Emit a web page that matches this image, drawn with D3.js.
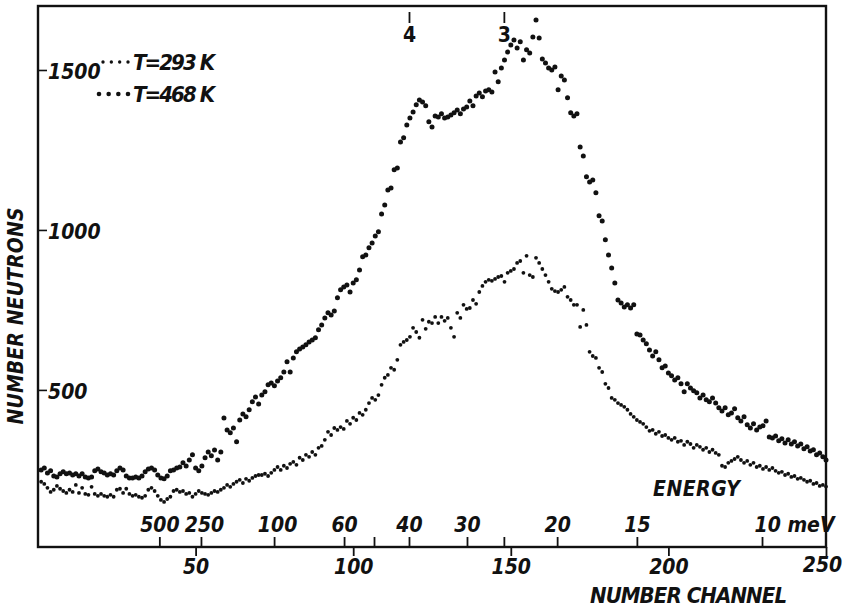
<!DOCTYPE html>
<html>
<head>
<meta charset="utf-8">
<script src="https://cdn.jsdelivr.net/npm/d3@7"></script>
<style>
  body { margin: 0; background: #fff; }
  svg text { font-family: "DejaVu Sans Condensed", "DejaVu Sans", sans-serif; font-style: italic; font-weight: bold; fill: #111; }
</style>
</head>
<body>
<div id="chart"></div>
<script>
// counts per channel (channels 1..250)
const counts468 = [
  250, 256, 240, 247, 231, 228, 238, 244, 238, 240,
  234, 238, 231, 238, 228, 225, 228, 247, 253, 244,
  240, 234, 238, 234, 247, 256, 250, 231, 225, 225,
  228, 225, 231, 244, 253, 256, 250, 234, 225, 222,
  231, 247, 250, 256, 259, 272, 262, 281, 297, 256,
  247, 262, 288, 306, 294, 312, 281, 306, 412, 375,
  366, 381, 338, 406, 425, 416, 438, 463, 478, 456,
  484, 494, 516, 522, 513, 528, 538, 556, 588, 556,
  600, 619, 628, 634, 641, 650, 656, 663, 688, 703,
  725, 741, 734, 747, 788, 813, 822, 828, 806, 834,
  844, 875, 916, 922, 944, 959, 981, 994, 1050, 1078,
  1125, 1131, 1188, 1194, 1275, 1288, 1328, 1350, 1369, 1391,
  1406, 1400, 1388, 1338, 1322, 1356, 1353, 1363, 1350, 1353,
  1359, 1366, 1375, 1363, 1378, 1384, 1403, 1388, 1419, 1428,
  1416, 1434, 1438, 1431, 1494, 1463, 1506, 1531, 1556, 1578,
  1594, 1569, 1588, 1531, 1563, 1553, 1603, 1656, 1600, 1534,
  1522, 1506, 1500, 1509, 1438, 1481, 1469, 1413, 1366, 1356,
  1363, 1259, 1231, 1166, 1150, 1156, 1116, 1044, 1028, 969,
  922, 881, 834, 781, 772, 759, 766, 756, 766, 675,
  672, 656, 644, 625, 606, 619, 594, 569, 575, 553,
  544, 531, 538, 519, 494, 519, 506, 497, 491, 475,
  484, 469, 463, 475, 459, 444, 434, 444, 422, 428,
  441, 413, 403, 416, 391, 381, 394, 375, 384, 388,
  403, 353, 350, 356, 341, 347, 334, 344, 331, 338,
  325, 331, 316, 322, 309, 313, 297, 303, 291, 281
];

const counts293 = [
  213, 206, 194, 181, 188, 200, 191, 184, 178, 188,
  181, 203, 178, 194, 175, 172, 197, 175, 169, 175,
  169, 166, 172, 166, 188, 191, 178, 191, 175, 169,
  172, 166, 163, 169, 188, 194, 184, 169, 156, 150,
  159, 166, 184, 188, 181, 184, 175, 178, 166, 175,
  184, 178, 175, 172, 178, 184, 181, 188, 194, 203,
  197, 206, 213, 219, 209, 222, 216, 225, 231, 234,
  234, 238, 231, 241, 250, 259, 250, 263, 256, 269,
  275, 266, 288, 281, 297, 291, 306, 297, 319, 325,
  344, 369, 359, 381, 375, 384, 378, 403, 394, 413,
  406, 428, 422, 438, 459, 475, 469, 484, 516, 538,
  547, 569, 563, 594, 641, 650, 656, 666, 694, 681,
  663, 719, 691, 713, 709, 728, 709, 728, 716, 725,
  694, 666, 741, 725, 766, 753, 756, 781, 769, 806,
  825, 838, 844, 841, 847, 853, 856, 838, 866, 872,
  878, 897, 903, 866, 919, 859, 853, 913, 897, 878,
  859, 838, 816, 809, 806, 813, 822, 791, 781, 766,
  766, 697, 750, 703, 619, 606, 600, 569, 556, 519,
  506, 475, 469, 459, 453, 447, 438, 425, 416, 406,
  400, 394, 384, 372, 375, 363, 369, 356, 359, 350,
  344, 350, 338, 341, 328, 338, 331, 319, 328, 322,
  313, 319, 306, 313, 303, 297, 263, 259, 272, 278,
  284, 291, 281, 272, 278, 266, 272, 259, 263, 253,
  259, 250, 256, 247, 241, 244, 234, 238, 228, 231,
  222, 225, 219, 213, 216, 206, 209, 200, 203, 198
];

const channelTicks = [50, 100, 150, 200, 250];
const countTicks = [500, 1000, 1500];

// energy scale marks, given as the channel they sit at
const energyChannels = [38.5, 51.7, 74.9, 97.1, 106.6, 117.7, 136.1, 147.8, 164.7, 190.0, 229.7];
const energyLabels = ["500", "250", "100", "60", "", "40", "30", "", "20", "15", "10 meV"];

const topChannels = [117.7, 147.8];
const topLabels = ["4", "3"];

const seriesNames = ["T=293 K", "T=468 K"];

const margin = {top: 6, right: 19, bottom: 63, left: 38},
    width = 845 - margin.left - margin.right,
    height = 610 - margin.top - margin.bottom;

const svg = d3.select("#chart")
    .append("svg")
    .attr("width", 845)
    .attr("height", 610)
    .append("g")
    .attr("transform", `translate(${margin.left},${margin.top})`);

const x = d3.scaleLinear()
    .domain([0, 250])
    .range([0, width]);

const y = d3.scaleLinear()
    .domain([9, 1700])
    .range([height, 0]);

const series = [
    {name: seriesNames[0], values: counts293, r: 1.9},
    {name: seriesNames[1], values: counts468, r: 2.5}
];

// dots
series.forEach(s => {
    svg.append("g")
        .selectAll("circle")
        .data(s.values)
        .join("circle")
        .attr("cx", (d, i) => x(i + 1))
        .attr("cy", d => y(d))
        .attr("r", s.r)
        .attr("fill", "#111");
});

// frame
svg.append("rect")
    .attr("x", 0)
    .attr("y", 0)
    .attr("width", width)
    .attr("height", height)
    .attr("fill", "none")
    .attr("stroke", "#111")
    .attr("stroke-width", 2.4);

// count axis, ticks pointing into the plot
const yAxis = svg.append("g")
    .call(d3.axisRight(y).tickValues(countTicks).tickSize(9).tickPadding(1).tickFormat(d3.format("d")));
yAxis.select(".domain").remove();
yAxis.selectAll("line").attr("stroke", "#111").attr("stroke-width", 1.6);
yAxis.selectAll("text").style("font-size", "21px").attr("dy", "0.4em");

// channel axis below
const xAxis = svg.append("g")
    .attr("transform", `translate(0,${height})`)
    .call(d3.axisBottom(x).tickValues(channelTicks).tickSize(9).tickPadding(3));
xAxis.select(".domain").remove();
xAxis.selectAll("line").attr("stroke", "#111").attr("stroke-width", 1.8);
xAxis.selectAll("text").style("font-size", "21px");
xAxis.selectAll(".tick").filter(d => d === 250).select("text").attr("dx", "-4px").attr("y", 10);

// energy scale on top of the channel axis
const eAxis = svg.append("g")
    .attr("transform", `translate(0,${height})`)
    .call(d3.axisTop(x).tickValues(energyChannels).tickSize(10).tickPadding(5)
        .tickFormat((d, i) => energyLabels[i]));
eAxis.select(".domain").remove();
eAxis.selectAll("line").attr("stroke", "#111").attr("stroke-width", 1.8);
eAxis.selectAll("text").style("font-size", "21px");
eAxis.selectAll(".tick").filter((d, i) => i === 1).select("text").attr("dx", "3px");
eAxis.selectAll(".tick").filter((d, i) => i === 2).select("text").attr("dx", "3px");
eAxis.selectAll(".tick").filter((d, i) => i === energyLabels.length - 1).select("text")
    .attr("text-anchor", "start").attr("dx", "-8px");

// marks 4 and 3 at the top
const tAxis = svg.append("g")
    .attr("transform", "translate(0,6)")
    .call(d3.axisBottom(x).tickValues(topChannels).tickSize(11).tickPadding(4)
        .tickFormat((d, i) => topLabels[i]));
tAxis.select(".domain").remove();
tAxis.selectAll("line").attr("stroke", "#111").attr("stroke-width", 1.8);
tAxis.selectAll("text").style("font-size", "21px").style("font-style", "normal");

// axis titles
svg.append("text")
    .attr("x", 552)
    .attr("y", height + 56)
    .style("font-size", "22px")
    .attr("textLength", 197)
    .text("NUMBER  CHANNEL");

svg.append("text")
    .attr("x", 615)
    .attr("y", 496 - margin.top)
    .style("font-size", "21px")
    .attr("textLength", 87)
    .text("ENERGY");

svg.append("text")
    .attr("transform", `translate(${-15},${316 - margin.top}) rotate(-90)`)
    .attr("text-anchor", "middle")
    .style("font-size", "21px")
    .attr("textLength", 217)
    .text("NUMBER  NEUTRONS");

// legend
const legend = svg.append("g");
const legendRows = [
    {x0: 103, cy: 62, name: seriesNames[0], r: 1.7},
    {x0: 99, cy: 94, name: seriesNames[1], r: 2.3}
];
legendRows.forEach(row => {
    const dotX = d3.range(4).map(k => row.x0 + k * (128 - row.x0) / 3);
    legend.append("g")
        .selectAll("circle")
        .data(dotX)
        .join("circle")
        .attr("cx", d => d - margin.left)
        .attr("cy", row.cy - margin.top)
        .attr("r", row.r)
        .attr("fill", "#111");
    legend.append("text")
        .attr("x", 133 - margin.left)
        .attr("y", row.cy - margin.top + 8)
        .style("font-size", "22px")
        .attr("textLength", 82)
        .text(row.name.replace(" K", "  K"));
});
</script>
</body>
</html>
